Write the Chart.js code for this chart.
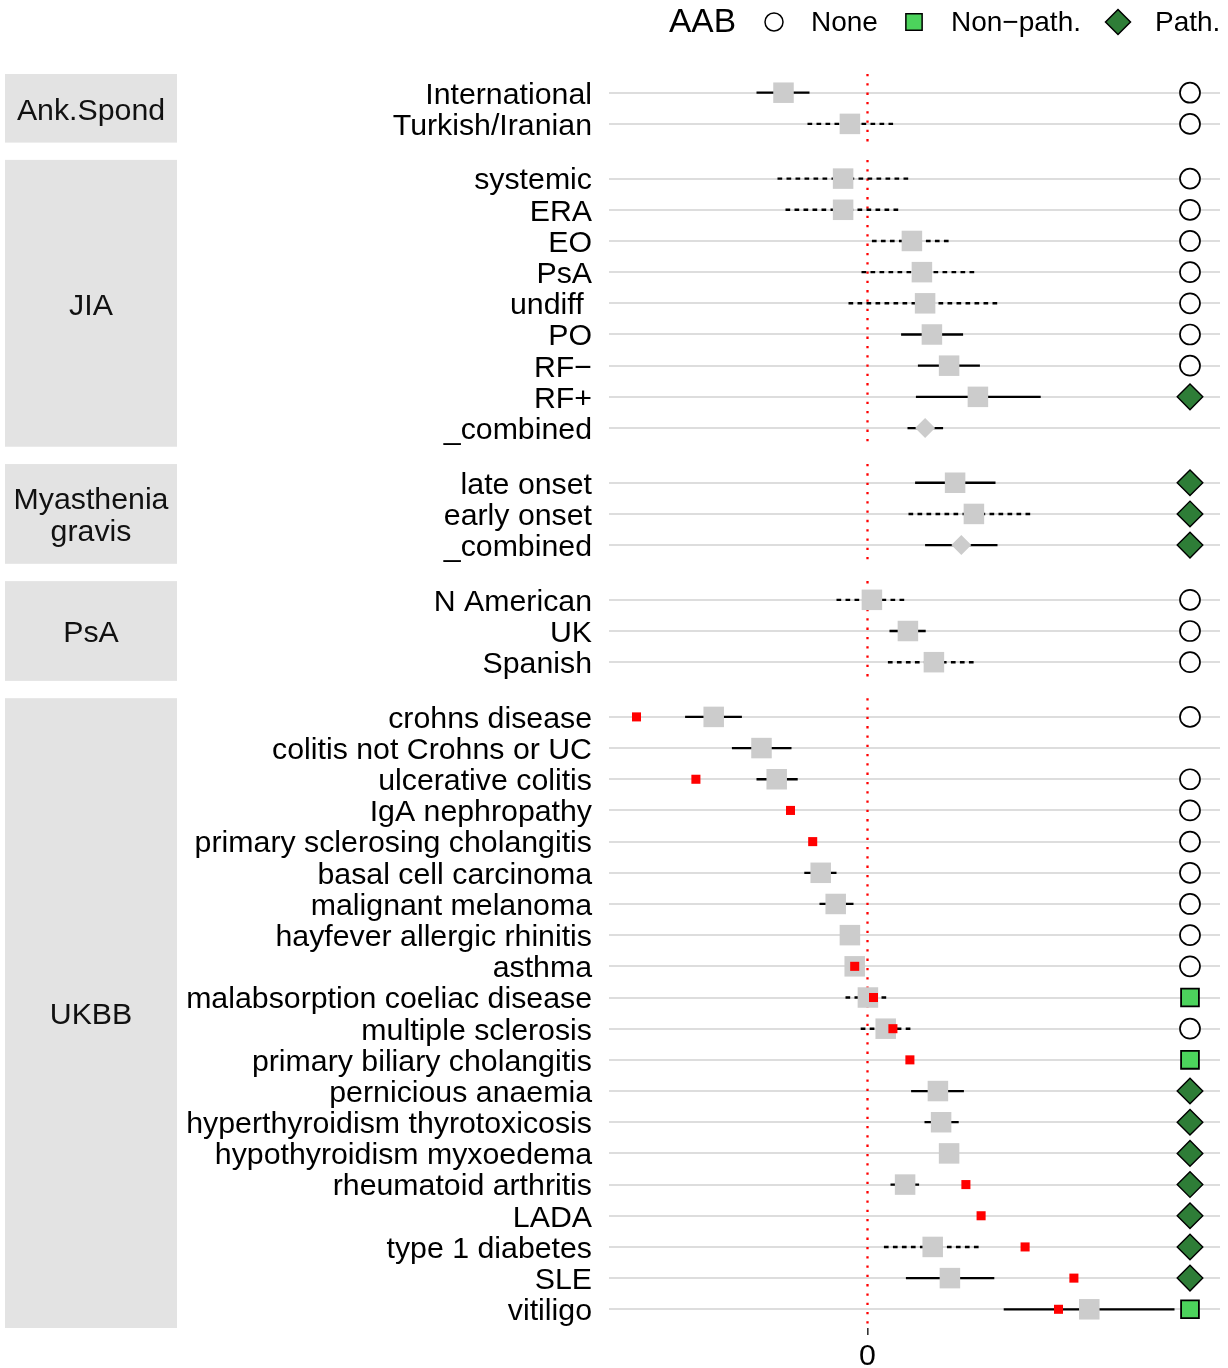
<!DOCTYPE html>
<html>
<head>
<meta charset="utf-8">
<title>AAB forest plot</title>
<script src="https://cdn.jsdelivr.net/npm/chart.js@4.4.0/dist/chart.umd.min.js"></script>
<style>
  html, body { margin: 0; padding: 0; background: #fff; }
  #wrap { width: 1228px; height: 1368px; }
</style>
</head>
<body>
<div id="wrap"><canvas id="chart" width="1228" height="1368"></canvas></div>
<script>
// forest plot: effect estimates per study / disease, faceted by group, with AAB status column

const FONT = '"Liberation Sans", Arial, Helvetica, sans-serif';
const TXT = 30.3;

// === DATA ===
const groups = ['Ank.Spond', 'JIA', 'Myasthenia\ngravis', 'PsA', 'UKBB'];
const groupSizes = [2, 9, 3, 3, 20];

const rowLabels = [
  'International', 'Turkish/Iranian',
  'systemic', 'ERA', 'EO', 'PsA', 'undiff ', 'PO', 'RF\u2212', 'RF+', '_combined',
  'late onset', 'early onset', '_combined',
  'N American', 'UK', 'Spanish',
  'crohns disease', 'colitis not Crohns or UC', 'ulcerative colitis', 'IgA nephropathy',
  'primary sclerosing cholangitis', 'basal cell carcinoma', 'malignant melanoma',
  'hayfever allergic rhinitis', 'asthma', 'malabsorption coeliac disease', 'multiple sclerosis',
  'primary biliary cholangitis', 'pernicious anaemia', 'hyperthyroidism thyrotoxicosis',
  'hypothyroidism myxoedema', 'rheumatoid arthritis', 'LADA', 'type 1 diabetes', 'SLE', 'vitiligo'
];

const estimate = [
  -0.42, -0.088,
  -0.122, -0.122, 0.222, 0.272, 0.288, 0.322, 0.408, 0.552, 0.288,
  0.438, 0.532, 0.469,
  0.022, 0.202, 0.332,
  -0.769, -0.53, -0.454, null, null, -0.234, -0.159, -0.088, -0.064, 0.002, 0.091,
  null, 0.352, 0.368, 0.408, 0.188, null, 0.326, 0.412, 1.109
];
const lower = [
  -0.555, -0.30,
  -0.45, -0.41, 0.022, -0.03, -0.095, 0.168, 0.252, 0.242, 0.20,
  0.238, 0.205, 0.288,
  -0.155, 0.11, 0.102,
  -0.912, -0.678, -0.555, null, null, -0.316, -0.24, -0.11, -0.08, -0.11, -0.034,
  null, 0.218, 0.285, 0.395, 0.115, null, 0.082, 0.192, 0.681
];
const upper = [
  -0.29, 0.128,
  0.205, 0.168, 0.418, 0.55, 0.669, 0.478, 0.562, 0.866, 0.378,
  0.64, 0.832, 0.65,
  0.188, 0.291, 0.545,
  -0.628, -0.38, -0.349, null, null, -0.155, -0.07, -0.066, -0.048, 0.098, 0.218,
  null, 0.482, 0.456, 0.42, 0.258, null, 0.57, 0.634, 1.535
];
// s = solid CI, d = dashed CI
const ciStyle = [
  's', 'd',
  'd', 'd', 'd', 'd', 'd', 's', 's', 's', 's',
  's', 'd', 's',
  'd', 's', 'd',
  's', 's', 's', '', '', 's', 's', 's', 's', 'd', 'd',
  '', 's', 's', 's', 's', '', 'd', 's', 's'
];
const pooled = [
  0, 0,
  0, 0, 0, 0, 0, 0, 0, 0, 1,
  0, 0, 1,
  0, 0, 0,
  0, 0, 0, 0, 0, 0, 0, 0, 0, 0, 0, 0, 0, 0, 0, 0, 0, 0, 0, 0
];
// second (red) estimate, UKBB only
const redEstimate = [
  null, null,
  null, null, null, null, null, null, null, null, null,
  null, null, null,
  null, null, null,
  -1.155, null, -0.858, -0.385, -0.274, null, null, null, -0.064, 0.03, 0.127,
  0.212, null, null, null, 0.492, 0.568, 0.788, 1.032, 0.955
];
const aab = [
  'None', 'None',
  'None', 'None', 'None', 'None', 'None', 'None', 'None', 'Path.', '',
  'Path.', 'Path.', 'Path.',
  'None', 'None', 'None',
  'None', '', 'None', 'None', 'None', 'None', 'None', 'None', 'None', 'Non\u2212path.', 'None',
  'Non\u2212path.', 'Path.', 'Path.', 'Path.', 'Path.', 'Path.', 'Path.', 'Path.', 'Non\u2212path.'
];
const aabLevels = ['None', 'Non\u2212path.', 'Path.'];
const xTicks = [0];

// === LAYOUT CONSTANTS ===
const X_MIN = -1.2925, X_MAX = 1.7625;
const AAB_X = 1.6125;          // column where AAB status is shown
const PAD = 0.6, GAP = 0.555;  // facet padding / gap in row units

const rowPos = [];
const panels = [];
let p = 0;
groupSizes.forEach((n, g) => {
  for (let i = 0; i < n; i++) rowPos.push(p + i);
  const end = p + n - 1;
  panels.push({ name: groups[g], top: p - PAD, bottom: end + PAD });
  p = end + 2 * PAD + GAP;
});
const Y_MAX = panels[panels.length - 1].bottom;

function whiskers(kind) {
  const pts = [];
  rowLabels.forEach((_, i) => {
    if (ciStyle[i] !== kind || lower[i] == null) return;
    pts.push({ x: lower[i], y: rowPos[i] }, { x: upper[i], y: rowPos[i] }, { x: null, y: null });
  });
  return pts;
}
function pointsWhere(values, test) {
  const pts = [];
  values.forEach((v, i) => { if (v != null && test(i)) pts.push({ x: v, y: rowPos[i] }); });
  return pts;
}
function zeroLine() {
  const pts = [];
  panels.forEach(pn => pts.push({ x: 0, y: pn.top }, { x: 0, y: pn.bottom }, { x: null, y: null }));
  return pts;
}
function aabPoints(level) {
  return pointsWhere(aab.map(a => a === level ? AAB_X : null), () => true);
}

const aabStyle = {
  'None': { pointStyle: 'circle', bg: '#FFFFFF' },
  'Non\u2212path.': { pointStyle: 'rect', bg: '#4CD35C' },
  'Path.': { pointStyle: 'rectRot', bg: '#2E7D37' }
};

// === PLUGINS ===
const stripPlugin = {
  id: 'strips',
  beforeDatasetsDraw(chart) {
    const ctx = chart.ctx, ys = chart.scales.y;
    ctx.save();
    panels.forEach(pn => {
      const top = ys.getPixelForValue(pn.top), bot = ys.getPixelForValue(pn.bottom);
      ctx.fillStyle = '#E3E3E3';
      ctx.fillRect(5, top, 172, bot - top);
      ctx.fillStyle = '#111';
      ctx.font = TXT + 'px ' + FONT;
      ctx.textAlign = 'center';
      ctx.textBaseline = 'middle';
      const lines = pn.name.split('\n');
      const mid = (top + bot) / 2 + 3;
      lines.forEach((ln, k) => ctx.fillText(ln, 91, mid + (k - (lines.length - 1) / 2) * 32));
    });
    ctx.restore();
  }
};

const legendPlugin = {
  id: 'aabLegend',
  afterDraw(chart) {
    const ctx = chart.ctx, y = 23;
    ctx.save();
    ctx.fillStyle = '#000';
    ctx.textBaseline = 'middle';
    ctx.textAlign = 'left';
    ctx.font = '33.5px ' + FONT;
    ctx.fillText('AAB', 669, y);
    const symX = [774, 914, 1118];
    const symR = [9, 11.5, 12.5];
    aabLevels.forEach((lv, k) => {
      const st = aabStyle[lv];
      ctx.fillStyle = st.bg;
      ctx.strokeStyle = '#000';
      ctx.lineWidth = 1.5;
      Chart.helpers.drawPoint(ctx, {
        pointStyle: st.pointStyle, radius: symR[k], rotation: 0, borderWidth: 1.5
      }, symX[k], y - 1);
      ctx.fillStyle = '#000';
      ctx.font = '28px ' + FONT;
      ctx.fillText(lv, symX[k] + 37, y);
    });
    ctx.restore();
  }
};

// === CHART ===
const datasets = [
  { label: 'AAB None', data: aabPoints('None'), order: 1,
    pointStyle: 'circle', pointRadius: 10, backgroundColor: '#FFFFFF', borderColor: '#000', borderWidth: 1.7 },
  { label: 'AAB Non-path', data: aabPoints('Non\u2212path.'), order: 1,
    pointStyle: 'rect', pointRadius: 12.6, backgroundColor: '#4CD35C', borderColor: '#000', borderWidth: 1.8 },
  { label: 'AAB Path', data: aabPoints('Path.'), order: 1,
    pointStyle: 'rectRot', pointRadius: 12.8, backgroundColor: '#2E7D37', borderColor: '#000', borderWidth: 1.4 },
  { label: 'UKBB estimate', data: pointsWhere(redEstimate, () => true), order: 2,
    pointStyle: 'rect', pointRadius: 6.4, backgroundColor: '#FF0000', borderWidth: 0 },
  { label: 'pooled', data: pointsWhere(estimate, i => pooled[i]), order: 3,
    pointStyle: 'rectRot', pointRadius: 10, backgroundColor: '#CCCCCC', borderWidth: 0 },
  { label: 'estimate', data: pointsWhere(estimate, i => !pooled[i]), order: 4,
    pointStyle: 'rect', pointRadius: 14.5, backgroundColor: '#CCCCCC', borderWidth: 0 },
  { label: 'CI solid', data: whiskers('s'), order: 5, showLine: true, pointRadius: 0,
    borderColor: '#000', borderWidth: 2.3, borderCapStyle: 'butt' },
  { label: 'CI dashed', data: whiskers('d'), order: 6, showLine: true, pointRadius: 0,
    borderColor: '#000', borderWidth: 2.4, borderDash: [4.7, 4.3], borderCapStyle: 'butt' },
  { label: 'zero', data: zeroLine(), order: 7, showLine: true, pointRadius: 0,
    borderColor: '#FF0000', borderWidth: 2.3, borderDash: [2.3, 7], borderCapStyle: 'butt' }
];
datasets.forEach(d => { d.clip = false; d.spanGaps = false; });

new Chart(document.getElementById('chart'), {
  type: 'scatter',
  data: { datasets },
  options: {
    responsive: false,
    animation: false,
    events: [],
    layout: { autoPadding: false, padding: { top: 74, right: 8, bottom: 0, left: 0 } },
    plugins: { legend: { display: false }, tooltip: { enabled: false } },
    scales: {
      x: {
        type: 'linear', min: X_MIN, max: X_MAX,
        afterBuildTicks: s => { s.ticks = xTicks.map(v => ({ value: v })); },
        afterFit: s => { s.height = 40; },
        ticks: { padding: 3, color: '#000', font: { family: FONT, size: TXT }, maxRotation: 0 },
        grid: { drawOnChartArea: false, drawTicks: true, tickLength: 7, color: '#333', lineWidth: 1.6 },
        border: { display: false }
      },
      y: {
        type: 'linear', reverse: true, min: -PAD, max: Y_MAX,
        afterBuildTicks: s => { s.ticks = rowPos.map(v => ({ value: v })); },
        afterFit: s => { s.width = 609; },
        ticks: {
          autoSkip: false, padding: 17, labelOffset: 2.5, color: '#000',
          font: { family: FONT, size: TXT },
          callback: (v, i) => rowLabels[i]
        },
        grid: { color: '#DDDDDD', lineWidth: 2, drawTicks: false },
        border: { display: false }
      }
    }
  },
  plugins: [stripPlugin, legendPlugin]
});
</script>
</body>
</html>
